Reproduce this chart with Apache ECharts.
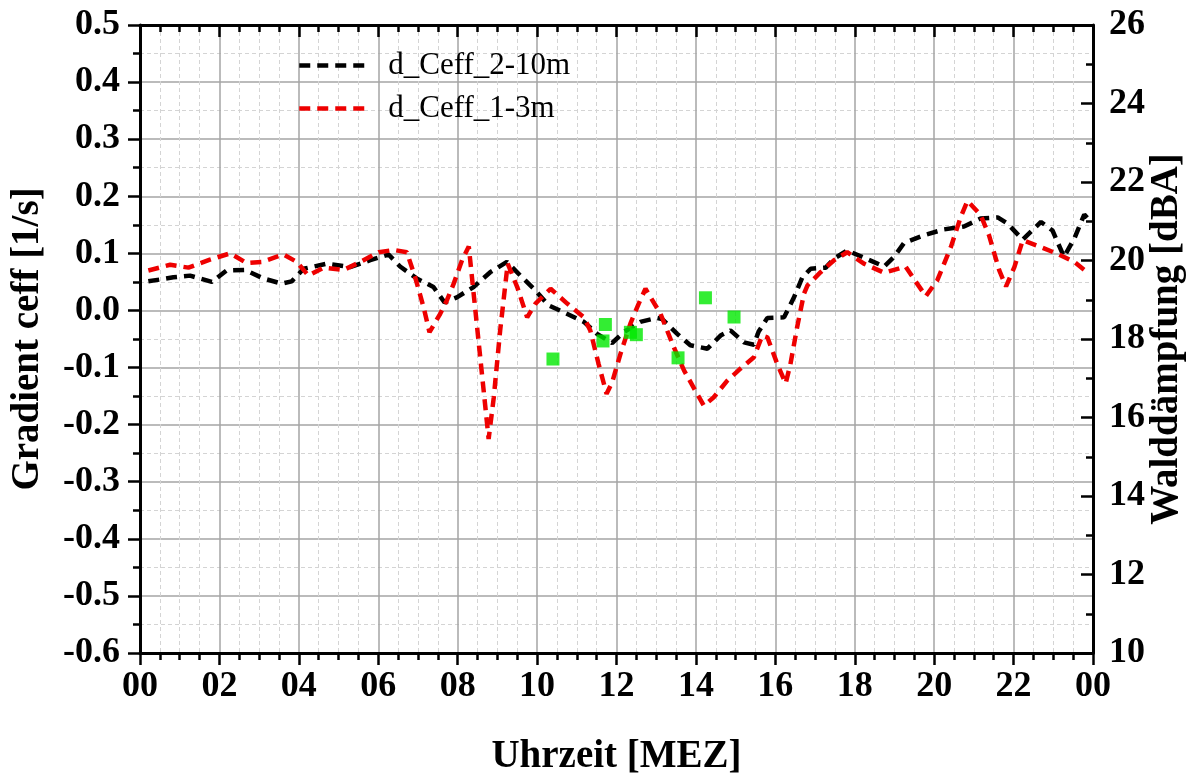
<!DOCTYPE html>
<html>
<head>
<meta charset="utf-8">
<script src="https://cdn.jsdelivr.net/npm/echarts@6/dist/echarts.min.js"></script>
<style>
html,body{margin:0;padding:0;background:#fff;overflow:hidden;}
#chart{width:1192px;height:780px;}
</style>
</head>
<body>
<div id="chart"></div>
<script>
// ---- Data (hours of day) ----
const blackHours = [0.21,0.84,1.26,1.81,2.18,2.65,3.11,3.57,3.82,4.12,4.70,5.29,5.80,6.26,6.55,6.97,7.39,7.67,7.98,8.40,8.82,9.24,9.58,9.96,10.29,10.67,11.18,11.51,11.89,12.18,12.60,13.02,13.15,13.53,13.86,14.29,14.62,14.87,15.21,15.46,15.58,15.80,16.22,16.47,16.68,16.89,17.27,17.48,17.81,18.15,18.74,18.99,19.24,19.75,20.25,20.75,21.17,21.60,21.85,22.23,22.69,22.98,23.27,23.53,23.78,23.95];
const blackValues = [0.051,0.058,0.061,0.050,0.070,0.071,0.056,0.047,0.051,0.073,0.082,0.076,0.088,0.098,0.077,0.056,0.041,0.014,0.023,0.041,0.067,0.085,0.061,0.035,0.009,-0.003,-0.020,-0.041,-0.057,-0.038,-0.020,-0.013,-0.015,-0.041,-0.061,-0.067,-0.044,-0.035,-0.056,-0.060,-0.037,-0.013,-0.012,0.023,0.058,0.073,0.075,0.091,0.105,0.095,0.077,0.094,0.118,0.132,0.142,0.147,0.161,0.163,0.152,0.124,0.155,0.140,0.094,0.126,0.168,0.155];

const redHours = [0.21,0.76,1.22,1.76,2.27,2.69,3.07,3.61,3.95,4.24,4.62,5.13,5.55,6.01,6.39,6.72,6.93,7.14,7.29,7.56,7.73,7.90,8.11,8.28,8.78,8.91,9.07,9.26,9.50,9.75,9.96,10.34,10.76,11.18,11.34,11.55,11.75,11.89,12.10,12.35,12.56,12.73,13.11,13.44,13.70,14.20,14.45,14.79,15.12,15.46,15.67,15.80,16.05,16.26,16.38,16.55,16.72,16.81,17.14,17.48,17.81,18.23,18.74,19.28,19.54,19.79,20.08,20.42,20.67,20.84,21.17,21.38,21.64,21.81,22.02,22.23,22.69,23.11,23.53,23.91];
const redValues = [0.070,0.080,0.075,0.089,0.100,0.083,0.085,0.098,0.085,0.061,0.075,0.071,0.085,0.102,0.106,0.102,0.058,0.006,-0.038,-0.006,0.018,0.047,0.088,0.112,-0.225,-0.152,-0.035,0.082,0.041,-0.012,0.012,0.038,0.012,-0.012,-0.035,-0.094,-0.146,-0.126,-0.076,-0.023,0.012,0.038,-0.006,-0.064,-0.105,-0.167,-0.152,-0.123,-0.102,-0.082,-0.044,-0.047,-0.094,-0.128,-0.094,-0.029,0.029,0.044,0.067,0.088,0.102,0.082,0.066,0.077,0.050,0.025,0.053,0.111,0.164,0.192,0.167,0.132,0.070,0.042,0.076,0.123,0.111,0.099,0.085,0.064];

const greenHours = [10.40,11.72,11.66,12.35,12.50,13.55,14.24,14.96];
const greenDBA   = [17.49,18.37,17.95,18.17,18.11,17.52,19.05,18.56];

const seriesNames = ['d_Ceff_2-10m','d_Ceff_1-3m'];
const xTitle = 'Uhrzeit [MEZ]';
const yLeftTitle = 'Gradient ceff [1/s]';
const yRightTitle = 'Walddämpfung [dBA]';

// ---- Build ----
const zip = (a,b) => a.map((v,i)=>[v,b[i]]);
const FONT = 'Liberation Serif';
const labelStyle = {fontFamily:FONT, fontWeight:'bold', fontSize:36, color:'#000'};
const titleStyle = {fontFamily:FONT, fontWeight:'bold', fontSize:39, color:'#000'};
const axisLine = {show:true, onZero:false, lineStyle:{color:'#000', width:3}};
const majorGrid = {show:true, lineStyle:{color:'#a4a4a4', width:1.5, type:'solid'}};
const minorGrid = {show:true, lineStyle:{color:'#d4d4d4', width:1, type:[4,3]}};
const DASH = [11,7];

const chart = echarts.init(document.getElementById('chart'), null, {renderer:'canvas'});
chart.setOption({
  animation:false,
  backgroundColor:'#fff',
  grid:{left:140, right:99, top:25, bottom:127, containLabel:false, outerBoundsMode:'none'},
  legend:{
    orient:'vertical', left:292, top:45, itemWidth:70, itemHeight:14, itemGap:12,
    itemStyle:{opacity:0},
    lineStyle:{width:4.5, type:DASH},
    textStyle:{fontFamily:FONT, fontSize:31, color:'#000', padding:[0,0,0,14]},
    data:seriesNames
  },
  xAxis:[{
    type:'value', min:0, max:24, interval:2, position:'bottom',
    name:xTitle, nameLocation:'middle', nameGap:84, nameTextStyle:titleStyle,
    axisLine:axisLine,
    axisTick:{show:true, inside:false, length:12, lineStyle:{color:'#000', width:2.5}},
    minorTick:{show:true, splitNumber:4, length:7, lineStyle:{color:'#000', width:2.5}},
    axisLabel:Object.assign({margin:16, formatter:v => v===24 ? '00' : String(v).padStart(2,'0')}, labelStyle),
    splitLine:majorGrid, minorSplitLine:minorGrid
  },{
    type:'value', min:0, max:24, interval:2, position:'top',
    axisLine:axisLine,
    axisTick:{show:true, inside:true, length:12, lineStyle:{color:'#000', width:2.5}},
    minorTick:{show:true, splitNumber:4, length:7, lineStyle:{color:'#000', width:2.5}},
    axisLabel:{show:false}, splitLine:{show:false}
  }],
  yAxis:[{
    type:'value', min:-0.6, max:0.5, interval:0.1, position:'left',
    name:yLeftTitle, nameLocation:'middle', nameGap:93, nameRotate:90, nameTextStyle:titleStyle,
    axisLine:axisLine,
    axisTick:{show:true, inside:false, length:12, lineStyle:{color:'#000', width:2.5}},
    minorTick:{show:true, splitNumber:2, length:7, lineStyle:{color:'#000', width:2.5}},
    axisLabel:Object.assign({margin:20, formatter:v => (Math.abs(v)<1e-9?0:v).toFixed(1)}, labelStyle),
    splitLine:majorGrid, minorSplitLine:minorGrid
  },{
    type:'value', min:10, max:26, interval:2, position:'right',
    name:yRightTitle, nameLocation:'middle', nameGap:54, nameRotate:90, nameMoveOverlap:false, nameTextStyle:titleStyle,
    axisLine:axisLine,
    axisTick:{show:true, inside:true, length:12, lineStyle:{color:'#000', width:2.5}},
    minorTick:{show:true, splitNumber:2, length:7, lineStyle:{color:'#000', width:2.5}},
    axisLabel:Object.assign({margin:16}, labelStyle),
    splitLine:{show:false}, minorSplitLine:{show:false}
  }],
  series:[{
    name:seriesNames[0], type:'line', xAxisIndex:0, yAxisIndex:0,
    data:zip(blackHours, blackValues), showSymbol:false, symbol:'none',
    lineStyle:{color:'#000', width:4.5, type:DASH}, itemStyle:{color:'#000'}, z:3
  },{
    name:seriesNames[1], type:'line', xAxisIndex:0, yAxisIndex:0,
    data:zip(redHours, redValues), showSymbol:false, symbol:'none',
    lineStyle:{color:'#ee0000', width:4.5, type:DASH}, itemStyle:{color:'#ee0000'}, z:4
  },{
    name:'Walddämpfung', type:'scatter', xAxisIndex:0, yAxisIndex:1,
    data:zip(greenHours, greenDBA), symbol:'rect', symbolSize:13,
    itemStyle:{color:'#00e800'}, z:5
  }]
});
</script>
</body>
</html>
